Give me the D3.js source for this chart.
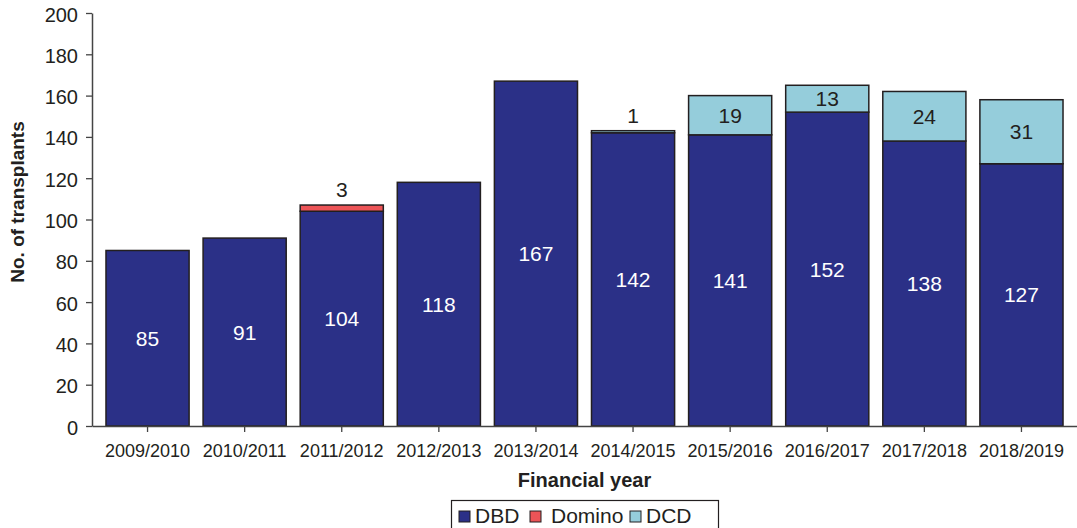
<!DOCTYPE html>
<html>
<head>
<meta charset="utf-8">
<script src="https://cdn.jsdelivr.net/npm/d3@7"></script>
<style>
  html, body { margin: 0; padding: 0; background: #fff; }
  svg { display: block; font-family: "Liberation Sans", Arial, Helvetica, sans-serif; }
</style>
</head>
<body>
<svg id="chart" width="1077" height="528"></svg>
<script>
// Transplants per financial year, split by donor type
const years = ["2009/2010", "2010/2011", "2011/2012", "2012/2013", "2013/2014",
               "2014/2015", "2015/2016", "2016/2017", "2017/2018", "2018/2019"];
const dbd    = [85, 91, 104, 118, 167, 142, 141, 152, 138, 127];
const domino = [0, 0, 3, 0, 0, 0, 0, 0, 0, 0];
const dcd    = [0, 0, 0, 0, 0, 1, 19, 13, 24, 31];
const yTicks = [0, 20, 40, 60, 80, 100, 120, 140, 160, 180, 200];
const seriesNames = ["DBD", "Domino", "DCD"];
const seriesColors = ["#2b3087", "#ec5457", "#95cddb"];

const rows = years.map((yr, i) => ({ year: yr, DBD: dbd[i], Domino: domino[i], DCD: dcd[i] }));

const svg = d3.select("#chart");
const ink = "#231f20";

const x = d3.scaleBand().domain(years).range([92, 1077]).paddingInner(0.144).paddingOuter(0.144);
const y = d3.scaleLinear().domain([0, 200]).range([426, 13]);
const color = d3.scaleOrdinal().domain(seriesNames).range(seriesColors);

const stacked = d3.stack().keys(seriesNames)(rows);

// Bars
const layers = svg.append("g").selectAll("g")
  .data(stacked).join("g")
  .attr("fill", d => color(d.key));

layers.selectAll("rect")
  .data(d => d.filter(s => s[1] - s[0] > 0))
  .join("rect")
  .attr("x", d => x(d.data.year))
  .attr("width", x.bandwidth())
  .attr("y", d => y(d[1]))
  .attr("height", d => y(d[0]) - y(d[1]))
  .attr("stroke", ink)
  .attr("stroke-width", 1.5);

// Segment value labels: inside when the segment is tall enough, above the bar otherwise
const labels = svg.append("g").attr("text-anchor", "middle").attr("font-size", 21);
stacked.forEach(layer => {
  layer.forEach(s => {
    const v = s[1] - s[0];
    if (v <= 0) return;
    const inside = v >= 8;
    const cx = x(s.data.year) + x.bandwidth() / 2;
    labels.append("text")
      .attr("x", cx)
      .attr("y", inside ? (y(s[0]) + y(s[1])) / 2 : y(s[1]) - 8)
      .attr("dy", inside ? "0.36em" : "0")
      .attr("fill", inside && layer.key === "DBD" ? "#ffffff" : ink)
      .text(v);
  });
});

// Y axis
const yAxis = svg.append("g")
  .attr("transform", "translate(92,0)")
  .call(d3.axisLeft(y).tickValues(yTicks).tickSizeInner(6).tickSizeOuter(0).tickPadding(8));
yAxis.select(".domain").attr("stroke", "#444").attr("stroke-width", 1.5);
yAxis.selectAll(".tick line").attr("stroke", "#444").attr("stroke-width", 1.3);
yAxis.selectAll(".tick text")
  .attr("font-size", 20).attr("fill", ink).attr("dy", "0.4em")
  .style("font-family", "'Liberation Sans', Arial, sans-serif");

// X axis
const xAxis = svg.append("g")
  .attr("transform", "translate(0,426)")
  .call(d3.axisBottom(x).tickSizeInner(6).tickSizeOuter(0).tickPadding(12));
xAxis.select(".domain").attr("stroke", "#444").attr("stroke-width", 1.5);
xAxis.selectAll(".tick line").attr("stroke", "#444").attr("stroke-width", 1.3);
xAxis.selectAll(".tick text")
  .attr("font-size", 18).attr("fill", ink)
  .style("font-family", "'Liberation Sans', Arial, sans-serif");

// Axis titles
svg.append("text")
  .attr("x", (x.range()[0] + x.range()[1]) / 2)
  .attr("y", 487)
  .attr("text-anchor", "middle")
  .attr("font-size", 20).attr("font-weight", "bold").attr("fill", ink)
  .text("Financial year");

svg.append("text")
  .attr("transform", "translate(24,202) rotate(-90)")
  .attr("text-anchor", "middle")
  .attr("font-size", 19).attr("font-weight", "bold").attr("fill", ink)
  .text("No. of transplants");

// Legend
const legend = svg.append("g");
legend.append("rect")
  .attr("x", 451.5).attr("y", 500.5).attr("width", 267).attr("height", 32)
  .attr("fill", "#fff").attr("stroke", ink).attr("stroke-width", 1.2);
const legendX = [459, 530, 630];
seriesNames.forEach((name, i) => {
  const g = legend.append("g").attr("transform", `translate(${legendX[i]},511)`);
  g.append("rect").attr("width", 11).attr("height", 11)
    .attr("fill", color(name)).attr("stroke", ink).attr("stroke-width", 1);
  g.append("text").attr("x", i === 1 ? 21 : 16).attr("y", 11.5)
    .attr("font-size", 21).attr("fill", ink).text(name);
});
</script>
</body>
</html>
